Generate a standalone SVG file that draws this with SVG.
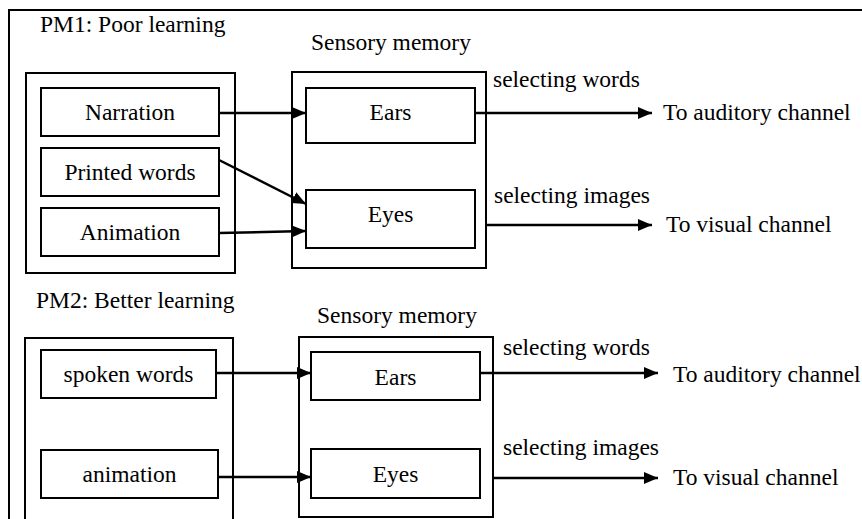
<svg xmlns="http://www.w3.org/2000/svg" width="862" height="519" viewBox="0 0 862 519" font-family="Liberation Serif, serif">
  <style>
    text { font-family: 'Liberation Serif', 'DejaVu Serif', serif; font-size: 23.5px; fill: #000; }
    .c { text-anchor: middle; }
    .box { fill: #fff; stroke: #000; stroke-width: 2; }
    .frame { fill: none; stroke: #000; stroke-width: 2; }
    .wire { fill: none; stroke: #000; stroke-width: 2.5; }
  </style>
  <defs>
    <marker id="head" viewBox="0 0 14 12" refX="14" refY="6" markerWidth="14" markerHeight="12" markerUnits="userSpaceOnUse" orient="auto">
      <path d="M0,0 L14,6 L0,12 Z" fill="#000"/>
    </marker>
  </defs>

  <rect width="862" height="519" fill="#fff"/>
  <!-- outer frame (open to the right and bottom) -->
  <path class="frame" d="M9,530 L9,10 L870,10"/>

  <!-- PM1 -->
  <text x="40" y="32">PM1: Poor learning</text>
  <g id="pm1-inputs"><rect class="box" x="26" y="73" width="209" height="200"/></g>
  <g id="pm1-narration"><rect class="box" x="41" y="88" width="178" height="48"/><text class="c" x="130" y="120">Narration</text></g>
  <g id="pm1-printed"><rect class="box" x="41" y="148" width="178" height="48"/><text class="c" x="130" y="180">Printed words</text></g>
  <g id="pm1-animation"><rect class="box" x="41" y="208" width="178" height="48"/><text class="c" x="130" y="240">Animation</text></g>
  <g id="pm1-sensory"><rect class="box" x="292" y="72" width="194" height="196"/><text x="311" y="50">Sensory memory</text></g>
  <g id="pm1-ears"><rect class="box" x="306" y="88" width="169" height="55"/><text class="c" x="390.5" y="120">Ears</text></g>
  <g id="pm1-eyes"><rect class="box" x="306" y="190" width="169" height="58"/><text class="c" x="390.5" y="222">Eyes</text></g>
  <g id="pm1-out-labels">
    <text x="493" y="87">selecting words</text>
    <text x="663" y="120">To auditory channel</text>
    <text x="494" y="203">selecting images</text>
    <text x="666" y="232">To visual channel</text>
  </g>

  <!-- PM2 -->
  <text x="36" y="308">PM2: Better learning</text>
  <g id="pm2-inputs"><rect class="box" x="25" y="338" width="208" height="200"/></g>
  <g id="pm2-spoken"><rect class="box" x="41" y="350" width="175" height="48"/><text class="c" x="128.5" y="382">spoken words</text></g>
  <g id="pm2-animation"><rect class="box" x="41" y="450" width="177" height="48"/><text class="c" x="129.5" y="482">animation</text></g>
  <g id="pm2-sensory"><rect class="box" x="299" y="337" width="194" height="180"/><text x="317" y="323">Sensory memory</text></g>
  <g id="pm2-ears"><rect class="box" x="311" y="352" width="169" height="48"/><text class="c" x="395.5" y="385">Ears</text></g>
  <g id="pm2-eyes"><rect class="box" x="311" y="449" width="169" height="49"/><text class="c" x="395.5" y="482">Eyes</text></g>
  <g id="pm2-out-labels">
    <text x="503" y="355">selecting words</text>
    <text x="673" y="382">To auditory channel</text>
    <text x="503" y="455">selecting images</text>
    <text x="673" y="485">To visual channel</text>
  </g>

  <!-- connectors -->
  <g id="connectors">
    <line class="wire" x1="219" y1="113" x2="306" y2="113" marker-end="url(#head)"/>
    <line class="wire" x1="219" y1="160" x2="306" y2="204" marker-end="url(#head)"/>
    <line class="wire" x1="219" y1="233" x2="306" y2="231" marker-end="url(#head)"/>
    <line class="wire" x1="475" y1="113" x2="652" y2="113" marker-end="url(#head)"/>
    <line class="wire" x1="486" y1="225" x2="652" y2="225" marker-end="url(#head)"/>

    <line class="wire" x1="216" y1="373" x2="311" y2="373" marker-end="url(#head)"/>
    <line class="wire" x1="218" y1="477" x2="311" y2="477" marker-end="url(#head)"/>
    <line class="wire" x1="480" y1="373" x2="658" y2="373" marker-end="url(#head)"/>
    <line class="wire" x1="493" y1="478" x2="658" y2="478" marker-end="url(#head)"/>
  </g>
</svg>
